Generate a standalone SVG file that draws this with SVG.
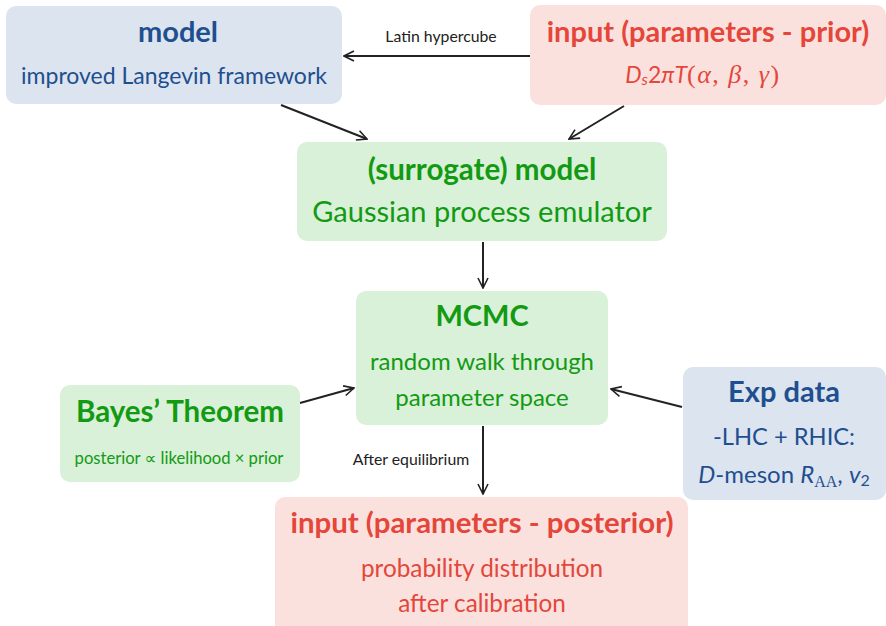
<svg xmlns="http://www.w3.org/2000/svg" width="886" height="626" viewBox="0 0 886 626">
<style>
text{font-family:Lato,"Open Sans","DejaVu Sans",sans-serif;text-anchor:middle}
.t{font-weight:bold}
.blue{fill:#dce4ef}.blueT{fill:#1f4f8f}
.green{fill:#d9f0d9}.greenT{fill:#129a12}
.red{fill:#fae1de}.redT{fill:#e5463a}
.lbl{fill:#222;font-size:15.8px}
.ser{font-family:"Liberation Serif","DejaVu Serif",serif}
.c{stroke:#222;stroke-width:2;fill:none;marker-end:url(#ah)}
</style>
<defs>
<marker id="ah" viewBox="0 0 12 12" refX="11" refY="6" markerWidth="12" markerHeight="12" markerUnits="userSpaceOnUse" orient="auto">
<path d="M1,1 L11,6 L1,11" fill="none" stroke="#222" stroke-width="1.6"/>
</marker>
</defs>
<rect width="886" height="626" fill="#fff"/>
<g id="connectors">
<line class="c" x1="530" y1="56" x2="344" y2="56"/>
<line class="c" x1="281" y1="105" x2="367" y2="139"/>
<line class="c" x1="624" y1="106" x2="569" y2="139"/>
<line class="c" x1="483" y1="242" x2="483" y2="288"/>
<line class="c" x1="300" y1="403" x2="354" y2="388"/>
<line class="c" x1="682" y1="407" x2="611" y2="389"/>
<line class="c" x1="483" y1="426" x2="483" y2="494"/>
<text class="lbl" x="441" y="42">Latin hypercube</text>
<text class="lbl" x="411" y="465">After equilibrium</text>
</g>
<g id="model">
<rect class="blue" x="6" y="6" width="336" height="98" rx="10"/>
<text class="t blueT" x="178" y="42" font-size="29">model</text>
<text class="blueT" x="174" y="84" font-size="23">improved Langevin framework</text>
</g>
<g id="prior">
<rect class="red" x="530" y="5" width="356" height="100" rx="10"/>
<text class="t redT" x="708" y="42" font-size="29">input (parameters - prior)</text>
<text class="redT" x="703" y="83" font-size="23"><tspan font-style="italic">D<tspan font-size="16" dy="2">s</tspan></tspan><tspan dy="-2">2</tspan><tspan font-style="italic">πT</tspan><tspan class="ser" font-size="26" letter-spacing="1.5">(<tspan font-style="italic">α</tspan>, <tspan font-style="italic">β</tspan>, <tspan font-style="italic">γ</tspan>)</tspan></text>
</g>
<g id="surrogate">
<rect class="green" x="297" y="142" width="370" height="99" rx="10"/>
<text class="t greenT" x="482" y="180" font-size="29.5">(surrogate) model</text>
<text class="greenT" x="482" y="222" font-size="29">Gaussian process emulator</text>
</g>
<g id="mcmc">
<rect class="green" x="356" y="291" width="252" height="134" rx="10"/>
<text class="t greenT" x="482" y="326" font-size="29">MCMC</text>
<text class="greenT" x="482" y="370" font-size="24">random walk through</text>
<text class="greenT" x="482" y="406" font-size="24">parameter space</text>
</g>
<g id="bayes">
<rect class="green" x="60" y="385" width="240" height="97" rx="10"/>
<text class="t greenT" x="180" y="422" font-size="29.5">Bayes’ Theorem</text>
<text class="greenT" x="179" y="464" font-size="16.6">posterior ∝ likelihood × prior</text>
</g>
<g id="expdata">
<rect class="blue" x="683" y="367" width="203" height="133" rx="10"/>
<text class="t blueT" x="784" y="402" font-size="29">Exp data</text>
<text class="blueT" x="784" y="445" font-size="23.7">-LHC + RHIC:</text>
<text class="blueT" x="784" y="483" font-size="24"><tspan font-style="italic">D</tspan>-meson <tspan font-style="italic">R</tspan><tspan class="ser" font-size="16" dy="4">AA</tspan><tspan dy="-4">, </tspan><tspan font-style="italic">v</tspan><tspan font-size="16" dy="3">2</tspan></text>
</g>
<g id="posterior">
<rect class="red" x="275" y="497" width="413" height="140" rx="10"/>
<text class="t redT" x="482" y="533" font-size="29.4">input (parameters - posterior)</text>
<text class="redT" x="482" y="577" font-size="24.3">probability distribution</text>
<text class="redT" x="482" y="612" font-size="24.3">after calibration</text>
</g>
</svg>
